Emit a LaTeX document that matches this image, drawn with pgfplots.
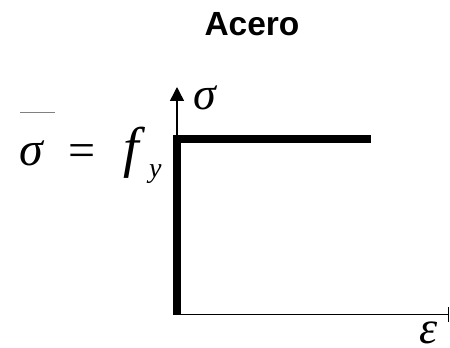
\documentclass[border=0pt]{standalone}
\usepackage{fontspec}
\setmainfont{Liberation Serif}
\newfontfamily\arial{Liberation Sans}
\usepackage{pgfplots}
\pgfplotsset{compat=1.18}
\usetikzlibrary{arrows.meta}
\begin{document}
\begin{tikzpicture}[x=1bp,y=1bp]
\useasboundingbox (-177,-32.5) rectangle (273,314.5);
\begin{axis}[
  at={(0,0)}, anchor=south west,
  scale only axis, width=272bp, height=227.5bp,
  xmin=0, xmax=272, ymin=0, ymax=227.5,
  enlargelimits=false, clip=false,
  axis lines=left, ticks=none,
  x axis line style={line width=1.5bp, -{Bar[width=15bp,line width=1.5bp]}},
  y axis line style={line width=1.5bp, -{Triangle[width=14bp,length=14bp]}},
]
\addplot[black, line width=8.5bp, line cap=butt] coordinates {(0,-0.5) (0,63.2)};
\addplot[black, line width=8.5bp, line cap=butt, line join=miter] coordinates {(0,64.0) (0,175.5) (194,175.5)};
\end{axis}
\node[anchor=base, inner sep=0] at (75,279.5) {\arial\bfseries\fontsize{33.5bp}{37bp}\selectfont Acero};
\node[anchor=base west, inner sep=0] at (16,205.5) {\fontsize{46bp}{50bp}\selectfont\itshape σ};
\node[anchor=base west, inner sep=0] at (242,-29) {\fontsize{46bp}{50bp}\selectfont\itshape ε};
\node[anchor=base west, inner sep=0] at (-158,149.5) {\fontsize{48bp}{52bp}\selectfont\itshape σ};
\draw[gray, line width=1bp] (-157,202.5) -- (-122,202.5);
\node[anchor=base west, inner sep=0] at (-108.5,148.5) {\fontsize{48bp}{52bp}\selectfont =};
\node[anchor=base west, inner sep=0] at (-54,148.5) {\fontsize{56bp}{60bp}\selectfont\itshape f};
\node[anchor=base west, inner sep=0] at (-28,137.5) {\fontsize{28bp}{32bp}\selectfont\itshape y};
\end{tikzpicture}
\end{document}
